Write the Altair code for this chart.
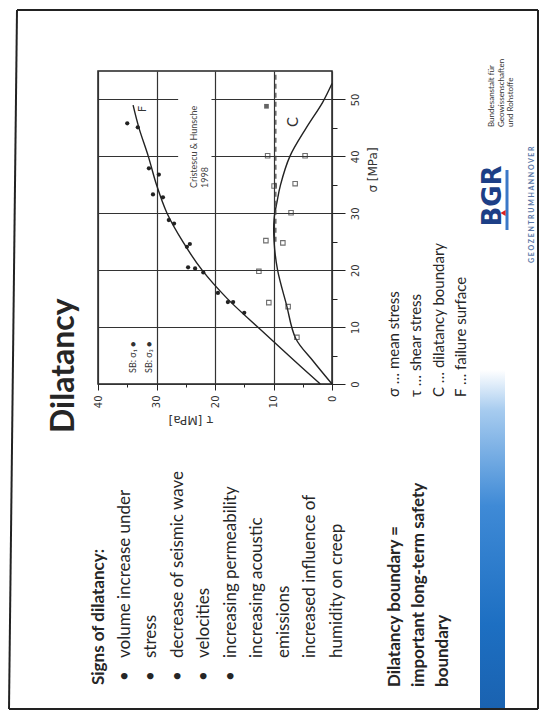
import altair as alt
import pandas as pd

# ---------------- data ----------------
# failure surface F  (sigma -> tau, MPa)
f_sigma = [0, 5, 10, 15, 20, 25, 30, 35, 40, 45, 49]
f_tau = [2.0, 7.4, 12.7, 17.9, 22.2, 25.5, 28.2, 30.0, 31.4, 33.0, 34.0]
# dilatancy boundary C
c_sigma = [0, 4, 8, 14, 20, 25, 29, 32, 35, 40, 45, 49.5, 52.8]
c_tau = [0, 3.2, 6.2, 7.8, 9.3, 9.9, 9.9, 9.4, 8.8, 7.2, 4.4, 1.6, 0]
# failure data points (filled dots)
fp_tau = [35.0, 33.2, 31.3, 29.6, 30.6, 28.9, 27.9, 27.0, 24.8, 24.3, 24.6, 23.4, 22.0, 19.5, 17.8, 16.9, 15.0]
fp_sigma = [45.8, 45.1, 37.9, 36.8, 33.3, 32.8, 28.8, 28.2, 24.1, 24.6, 20.5, 20.3, 19.6, 16.0, 14.4, 14.4, 12.5]
# dilatancy data points (open symbols)
dp_tau = [6.0, 7.5, 10.8, 12.5, 11.3, 8.4, 9.9, 6.3, 7.0, 11.0, 4.6]
dp_sigma = [8.2, 13.6, 14.3, 19.8, 25.2, 24.8, 34.8, 35.2, 30.1, 40.1, 40.1]
# single filled square
sq_tau = [11.2]
sq_sigma = [48.8]
# dashed reference line
dash_tau = [9.6, 9.6]
dash_sigma = [25, 55]

tau_ticks = [0, 5, 10, 15, 20, 25, 30, 35, 40]
sigma_ticks = [0, 5, 10, 15, 20, 25, 30, 35, 40, 45, 50]

bullet_lines = ["volume increase under", "stress", "decrease of seismic wave",
                "velocities", "increasing permeability", "increasing acoustic",
                "emissions", "increased influence of", "humidity on creep"]
bullet_marks = ["•", "", "•", "", "•", "•", "", "•", ""]
conclusion_lines = ["Dilatancy boundary =", "important long-term safety", "boundary"]
legend_lines = ["σ … mean stress", "τ … shear stress", "C … dilatancy boundary", "F … failure surface"]
bgr_lines = ["Bundesanstalt für", "Geowissenschaften", "und Rohstoffe"]

# ---------------- layout ----------------
OX, OY = 98, 71          # plot origin on the page
W, H = 234, 313
def px(X):
    return X - OX
def py(Y):
    return Y - OY

FONT = "Lato"
INK = "#262626"

xs = alt.Scale(domain=[0, 40], reverse=True, nice=False, zero=False)
ys = alt.Scale(domain=[0, 55], nice=False, zero=False)

xaxis = alt.Axis(values=tau_ticks, title="", orient="bottom", domain=False,
                 labelAngle=270, labelAlign="right", labelBaseline="middle",
                 labelExpr="datum.value % 10 === 0 ? datum.label : ''",
                 tickSize={"condition": {"test": "datum.value % 10 === 0", "value": 6}, "value": 3},
                 gridOpacity={"condition": {"test": "datum.value % 10 === 0", "value": 1}, "value": 0},
                 labelPadding=5, labelFont="DejaVu Sans", labelFontSize=10, labelColor="#333",
                 tickColor="#222", gridColor="#333", gridWidth=1.2)
yaxis = alt.Axis(values=sigma_ticks, title="", orient="right", domain=False,
                 labelAngle=270, labelAlign="center", labelBaseline="top",
                 labelExpr="datum.value % 10 === 0 ? datum.label : ''",
                 tickSize={"condition": {"test": "datum.value % 10 === 0", "value": 13}, "value": 5},
                 gridOpacity={"condition": {"test": "datum.value % 10 === 0", "value": 1}, "value": 0},
                 labelPadding=5, labelFont="DejaVu Sans", labelFontSize=10, labelColor="#333",
                 tickColor="#222", gridColor="#333", gridWidth=1.2)

def X():
    return alt.X("tau:Q", scale=xs, axis=xaxis)
def Y():
    return alt.Y("sigma:Q", scale=ys, axis=yaxis)

f_df = pd.DataFrame({"tau": f_tau, "sigma": f_sigma, "o": range(len(f_tau))})
c_df = pd.DataFrame({"tau": c_tau, "sigma": c_sigma, "o": range(len(c_tau))})
fp_df = pd.DataFrame({"tau": fp_tau, "sigma": fp_sigma})
dp_df = pd.DataFrame({"tau": dp_tau, "sigma": dp_sigma})
sq_df = pd.DataFrame({"tau": sq_tau, "sigma": sq_sigma})
dash_df = pd.DataFrame({"tau": dash_tau, "sigma": dash_sigma, "o": [0, 1]})
one = pd.DataFrame({"k": [0]})

layers = []
layers.append(alt.Chart(f_df).mark_line(color="#222", strokeWidth=1.4, interpolate="catmull-rom")
              .encode(x=X(), y=Y(), order="o:Q"))
layers.append(alt.Chart(c_df).mark_line(color="#222", strokeWidth=1.4, interpolate="catmull-rom")
              .encode(x=X(), y=Y(), order="o:Q"))
layers.append(alt.Chart(dash_df).mark_line(color="#444", strokeWidth=1.2, strokeDash=[5, 4])
              .encode(x=X(), y=Y(), order="o:Q"))
layers.append(alt.Chart(fp_df).mark_point(shape="circle", filled=True, color="#222", size=18, opacity=1)
              .encode(x=X(), y=Y()))
layers.append(alt.Chart(dp_df).mark_point(shape="square", filled=False, color="#333", size=20, strokeWidth=1.1)
              .encode(x=X(), y=Y()))
layers.append(alt.Chart(sq_df).mark_point(shape="square", filled=True, color="#222", size=22)
              .encode(x=X(), y=Y()))

def tx(t):
    return W * (40 - t) / 40.0
def sy(s):
    return H * (55 - s) / 55.0

# white box behind the citation (it breaks the grid lines)
layers.append(alt.Chart(one).mark_rect(color="white").encode(
    x=alt.value(tx(26.3)), x2=alt.value(tx(20.6)), y=alt.value(sy(53)), y2=alt.value(sy(33))))

def text(t, X_, Y_, size, align="left", baseline="alphabetic", angle=270, weight="normal",
         color=INK, font=FONT, lh=None, style="normal"):
    kw = dict(text=t, align=align, baseline=baseline, angle=angle, fontSize=size,
              fontWeight=weight, color=color, font=font, fontStyle=style)
    if lh is not None:
        kw["lineHeight"] = lh
    return alt.Chart(one).mark_text(**kw).encode(x=alt.value(px(X_)), y=alt.value(py(Y_)))

# in-plot annotations
layers.append(text(["Cristescu & Hunsche", "1998"], 197, 188, 9, color="#444", lh=11))
layers.append(text("F", 143, 109, 11, align="center", baseline="middle", color="#333"))
layers.append(text("C", 293, 122, 15, align="center", baseline="middle", color="#333"))
layers.append(text(["SB: σ₁ ●", "SB: σ₃ ●"], 136, 373, 9, color="#333", lh=16))
layers.append(text("σ [MPa]", 373, 170, 12, align="center", baseline="middle", color="#333", font="DejaVu Sans"))
layers.append(text("τ [MPa]", 191, 420, 12, align="center", baseline="middle", angle=180, color="#333", font="DejaVu Sans"))

# slide texts
layers.append(text("Dilatancy", 74, 433, 32, weight="bold"))
layers.append(text("Signs of dilatancy:", 104, 685, 17, weight="bold"))
layers.append(text(bullet_lines, 129.5, 658, 17, lh=26.5))
layers.append(text(bullet_marks, 129.5, 681, 17, lh=26.5))
layers.append(text(conclusion_lines, 399.5, 687, 17, weight="bold", lh=24))
layers.append(text(legend_lines, 399, 397, 15, lh=22.3))

# gradient bar
grad = alt.LinearGradient(gradient="linear", x1=0, x2=0, y1=0, y2=1, stops=[
    alt.GradientStop(color="#ffffff", offset=0),
    alt.GradientStop(color="#a6cbef", offset=0.12),
    alt.GradientStop(color="#3f8ad6", offset=0.4),
    alt.GradientStop(color="#1d6fc2", offset=0.75),
    alt.GradientStop(color="#1a62b0", offset=1)])
layers.append(alt.Chart(one).mark_rect(fill=grad).encode(
    x=alt.value(px(480)), x2=alt.value(px(505)), y=alt.value(py(370)), y2=alt.value(py(710))))

# logo
layers.append(text("BGR", 493, 196, 26, align="center", baseline="middle", weight="bold",
                   color="#1d3f86", font="DejaVu Sans"))
layers.append(alt.Chart(one).mark_rule(color="#3a78c8", strokeWidth=3).encode(
    x=alt.value(px(507)), y=alt.value(py(230)), y2=alt.value(py(170))))
layers.append(alt.Chart(one).mark_point(shape="triangle-left", filled=True, color="#d22", size=35, opacity=1).encode(
    x=alt.value(px(503)), y=alt.value(py(213))))
layers.append(text(bgr_lines, 494, 127, 8, color="#333", lh=9.5))
layers.append(text("G E O Z E N T R U M    H A N N O V E R", 534, 263, 7, color="#5a78a8", weight="bold"))

# slide frame
for (a, b, c, d) in [(17, 10, 538, 10), (17, 10, 9, 709), (9, 709, 538, 709), (538, 10, 538, 709)]:
    layers.append(alt.Chart(one).mark_rule(color="#222", strokeWidth=2).encode(
        x=alt.value(px(a)), y=alt.value(py(b)), x2=alt.value(px(c)), y2=alt.value(py(d))))

chart = alt.layer(*layers).properties(
    width=W, height=H,
    autosize=alt.AutoSizeParams(type="none"),
    padding={"left": OX - 8, "top": OY - 8, "right": 531 - (OX - 8) - W, "bottom": 703 - (OY - 8) - H},
    background="white",
).configure_view(stroke="#222", strokeWidth=1.5)

chart.save("out.html", embed_options={"renderer": "svg", "actions": False})
